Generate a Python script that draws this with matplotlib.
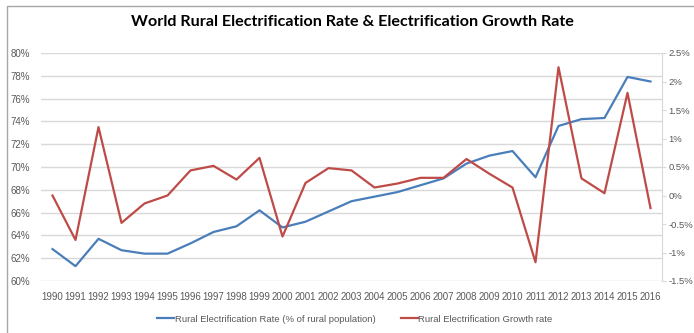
import matplotlib.pyplot as plt
from matplotlib.patches import Rectangle
from matplotlib.ticker import FuncFormatter

years = list(range(1990, 2017))
rural_rate = [62.8, 61.3, 63.7, 62.7, 62.4, 62.4, 63.3, 64.3, 64.8, 66.2,
              64.7, 65.2, 66.1, 67.0, 67.4, 67.8, 68.4, 69.0, 70.3, 71.0,
              71.4, 69.1, 73.6, 74.2, 74.3, 77.9, 77.5]
growth_rate = [0.00, -0.78, 1.20, -0.48, -0.14, 0.00, 0.44, 0.52, 0.28, 0.66,
               -0.72, 0.22, 0.48, 0.44, 0.14, 0.21, 0.31, 0.31, 0.64, 0.38,
               0.14, -1.17, 2.25, 0.30, 0.04, 1.80, -0.22]

left_ticks = [60, 62, 64, 66, 68, 70, 72, 74, 76, 78, 80]
right_ticks = [-1.5, -1, -0.5, 0, 0.5, 1, 1.5, 2, 2.5]

BLUE = "#4a7ebb"
RED = "#be4b48"
TXT = "#595959"
GRID = "#d9d9d9"
FONT = ["Liberation Sans", "DejaVu Sans"]

fig = plt.figure(figsize=(6.94, 3.33), dpi=100)
fig.patches.append(Rectangle((7 / 694, -0.1), 1.2, 1 - 6 / 333 + 0.1,
                             transform=fig.transFigure, fill=False,
                             edgecolor="#a6a6a6", linewidth=1.0))

ax = fig.add_axes([41 / 694, 1 - 281 / 333, (662 - 41) / 694, (281 - 53) / 333])
ax2 = ax.twinx()

l1, = ax.plot(years, rural_rate, color=BLUE, lw=1.6,
              label="Rural Electrification Rate (% of rural population)")
l2, = ax2.plot(years, growth_rate, color=RED, lw=1.6,
               label="Rural Electrification Growth rate")

ax.set_xlim(1989.5, 2016.5)
ax.set_ylim(60, 80)
ax.set_yticks(left_ticks)
ax.yaxis.set_major_formatter(FuncFormatter(lambda v, p: f"{v:.0f}%"))
ax2.set_ylim(-1.5, 2.5)
ax2.set_yticks(right_ticks)
ax2.yaxis.set_major_formatter(FuncFormatter(lambda v, p: f"{v:g}%"))
ax.set_xticks(years)
ax.set_xticklabels([str(y) for y in years])

ax.grid(axis="y", color=GRID, lw=1.0)
ax.set_axisbelow(True)
for a in (ax, ax2):
    for s in a.spines.values():
        s.set_visible(False)
ax2.spines["right"].set_visible(True)
ax2.spines["right"].set_color(GRID)

ax.tick_params(axis="y", length=0, pad=8, labelsize=7, labelcolor=TXT)
ax.tick_params(axis="x", length=0, pad=8, labelsize=7, labelcolor=TXT)
ax2.tick_params(axis="y", length=3, color=GRID, pad=1.5, labelsize=6.8, labelcolor=TXT)
for lab in ax.get_xticklabels() + ax.get_yticklabels() + ax2.get_yticklabels():
    lab.set_family(FONT)

fig.text(352 / 694, 1 - 22 / 333,
         "World Rural Electrification Rate & Electrification Growth Rate",
         ha="center", va="center", fontsize=11.6, fontweight="bold",
         color="#000000", family=["Lato", "DejaVu Sans"])

leg = fig.legend(handles=[l1, l2], loc="center", bbox_to_anchor=(355 / 694, 1 - 319 / 333),
                 ncol=2, frameon=False, handlelength=1.8, handletextpad=0.1,
                 columnspacing=2.6, prop={"family": FONT, "size": 6.8})
for t in leg.get_texts():
    t.set_color(TXT)

fig.savefig("out.png", dpi=100)
